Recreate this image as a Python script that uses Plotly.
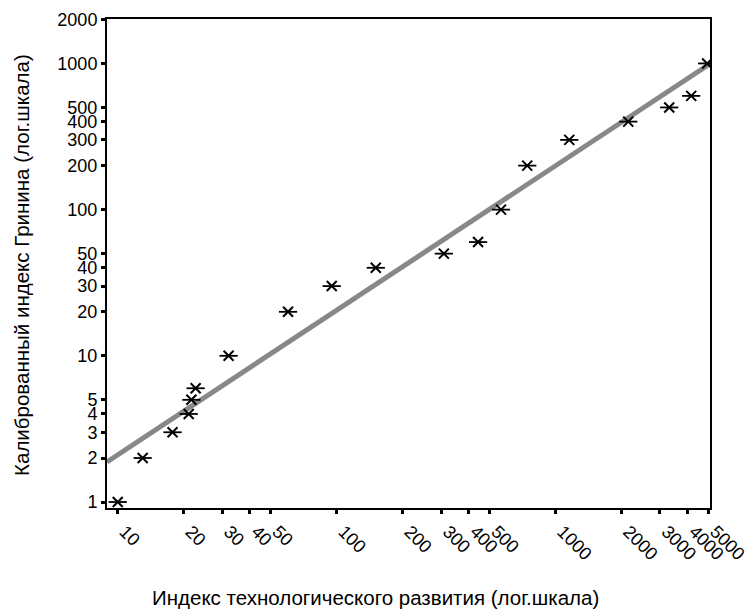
import plotly.graph_objects as go

# Data
tech_index = [10, 13, 17.8, 21.1, 21.7, 22.7, 32.1, 60, 95, 151, 309, 443, 564, 743, 1156, 2150, 3310, 4170, 4930]
grinin_index = [1, 2, 3, 4, 5, 6, 10, 20, 30, 40, 50, 60, 100, 200, 300, 400, 500, 600, 1000]

# Regression line endpoints
fit_x = [8.93, 5080]
fit_y = [1.88, 995]

x_ticks = [10, 20, 30, 40, 50, 100, 200, 300, 400, 500, 1000, 2000, 3000, 4000, 5000]
y_ticks = [1, 2, 3, 4, 5, 10, 20, 30, 40, 50, 100, 200, 300, 400, 500, 1000, 2000]

X_TITLE = "Индекс технологического развития (лог.шкала)"
Y_TITLE = "Калиброванный индекс Гринина (лог.шкала)"

FONT = "Liberation Sans, Arial, sans-serif"

fig = go.Figure()
fig.add_trace(go.Scatter(x=fit_x, y=fit_y, mode="lines",
                         line=dict(color="#888888", width=5), hoverinfo="skip"))
fig.add_trace(go.Scatter(x=tech_index, y=grinin_index, mode="markers",
                         marker=dict(symbol="x-thin-open", size=10,
                                     line=dict(color="black", width=2), color="black")))
fig.add_trace(go.Scatter(x=tech_index, y=grinin_index, mode="markers",
                         marker=dict(symbol="line-ew-open", size=13,
                                     line=dict(color="black", width=1.8), color="black")))

axis_common = dict(showgrid=False, zeroline=False, showline=True, linecolor="black",
                   linewidth=2, mirror=True, ticks="outside", ticklen=4, tickwidth=3,
                   automargin=False,
                   tickcolor="black", tickfont=dict(family=FONT, size=18, color="black"))

fig.update_xaxes(type="log", range=[0.951, 3.706], tickvals=x_ticks,
                 ticktext=[str(v) for v in x_ticks], tickangle=45,
                 ticklabelshift=7, **axis_common)
fig.update_yaxes(type="log", range=[-0.041, 3.304], tickvals=y_ticks,
                 ticktext=[str(v) for v in y_ticks], **axis_common)

fig.add_annotation(text=X_TITLE, xref="paper", yref="paper", x=0.446, y=-0.184,
                   xanchor="center", yanchor="middle", showarrow=False,
                   font=dict(family=FONT, size=20.5, color="black"))
fig.add_annotation(text=Y_TITLE, xref="paper", yref="paper", x=-0.141, y=0.497,
                   xanchor="center", yanchor="middle", textangle=-90, showarrow=False,
                   font=dict(family=FONT, size=20.5, color="black"))

fig.update_layout(width=752, height=614, showlegend=False,
                  plot_bgcolor="white", paper_bgcolor="white",
                  margin=dict(l=107, r=42, t=19, b=106, autoexpand=False),
                  font=dict(family=FONT, color="black"))

fig.write_html("out.html")
